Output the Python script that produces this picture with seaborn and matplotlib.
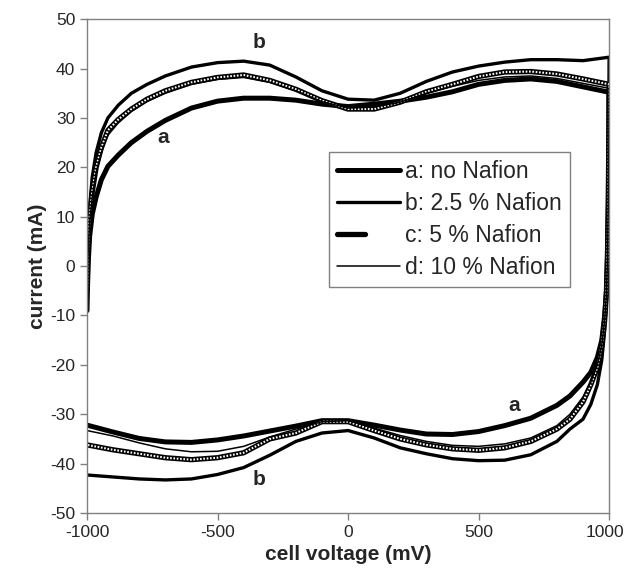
import matplotlib
matplotlib.use("Agg")
import matplotlib.pyplot as plt
import pandas as pd
import seaborn as sns
from matplotlib.lines import Line2D
from matplotlib.legend_handler import HandlerTuple
from matplotlib.transforms import ScaledTranslation

# voltage grids (mV): forward scan -1000 -> 1000, reverse scan 1000 -> -1000
v_fwd = [-1000, -998, -995, -990, -980, -965, -945, -920, -880, -830, -770, -700,
         -600, -500, -400, -300, -200, -100, 0, 100, 200, 300, 400, 500, 600,
         700, 800, 900, 1000]
v_rev = [1000, 999, 997, 994, 990, 983, 972, 955, 930, 900, 850, 800, 700, 600,
         500, 400, 300, 200, 100, 0, -100, -200, -300, -400, -500, -600, -700,
         -800, -900, -1000]

# current (mA)
a_fwd = [-9, -4, 1, 6, 10.5, 14, 17.5, 20.2, 22.5, 25, 27.3, 29.5, 32, 33.4, 34,
         34, 33.6, 32.8, 32.3, 32.8, 33.4, 34.2, 35.3, 36.8, 37.6, 37.9, 37.4,
         36.3, 35.2]
a_rev = [35.2, 25, 12, 2, -5, -10, -15, -18.5, -21.5, -23.5, -26.3, -28.2, -30.8,
         -32.3, -33.5, -34.1, -34, -33.2, -32.2, -31.3, -31.3, -32.4, -33.4, -34.4,
         -35.2, -35.7, -35.6, -34.9, -33.6, -32.2]

b_fwd = [-7, 0, 6, 12, 18, 23, 27, 30, 32.6, 35, 36.8, 38.5, 40.3, 41.2, 41.5,
         40.7, 38.3, 35.5, 33.8, 33.6, 35, 37.4, 39.3, 40.5, 41.3, 41.8, 41.8,
         41.6, 42.3]
b_rev = [42.3, 30, 15, 3, -6, -13, -19, -24, -28, -31, -33, -35.5, -38.2, -39.3,
         -39.4, -39, -38, -36.8, -34.8, -33.3, -33.8, -35.5, -38.3, -40.8, -42.2,
         -43.1, -43.3, -43.1, -42.7, -42.3]

c_fwd = [-5, 0, 5, 10, 15, 20, 24, 27.5, 29.7, 31.8, 33.8, 35.5, 37.2, 38.2, 38.7,
         37.6, 35.8, 33.5, 31.8, 31.8, 33.2, 35.3, 36.8, 38.4, 39.3, 39.4, 38.9,
         37.9, 36.8]
c_rev = [36.8, 26, 14, 3, -5, -11, -16, -20.5, -24, -27.5, -31, -33, -35.5, -36.8,
         -37.3, -37, -36.2, -35, -33.3, -31.5, -31.5, -33.8, -35, -37.8, -38.8,
         -39.2, -38.8, -38, -37.2, -36.2]

d_fwd = [-6, -1, 4, 9, 14, 19, 23, 26.5, 29, 31.3, 33.3, 35, 36.8, 37.8, 38.2,
         37.2, 35.5, 33.3, 32, 32.2, 33.2, 35, 36.4, 37.6, 38.3, 38.5, 38, 37, 36]
d_rev = [36, 25, 13, 2, -5.5, -11, -16, -20, -23.5, -26.5, -30, -32.3, -34.8, -36,
         -36.5, -36.3, -35.5, -34.3, -32.8, -31.3, -31.5, -33, -34.6, -36.5, -37.5,
         -37.6, -37, -35.8, -34.4, -33.3]

labels = ["a: no Nafion", "b: 2.5 % Nafion", "c: 5 % Nafion", "d: 10 % Nafion"]

curves = {"a": (a_fwd, a_rev), "b": (b_fwd, b_rev), "c": (c_fwd, c_rev), "d": (d_fwd, d_rev)}
rows = []
for name, (fwd, rev) in curves.items():
    for v, i in zip(v_fwd + v_rev, fwd + rev):
        rows.append({"curve": name, "voltage": v, "current": i})
df = pd.DataFrame(rows)

sns.set_style("ticks")
plt.rcParams['font.family'] = ['Liberation Sans', 'DejaVu Sans']
plt.rcParams['axes.unicode_minus'] = False

fig = plt.figure(figsize=(6.26, 5.81), dpi=100)
ax = fig.add_axes([0.139, 0.117, 0.834, 0.850])

dots = (0, (0.8, 0.8))
styles = {"a": 3.6, "b": 2.4, "c": 3.8, "d": 1.1}
for name in ["a", "b", "c", "d"]:
    sub = df[df["curve"] == name]
    sns.lineplot(data=sub, x="voltage", y="current", sort=False, estimator=None,
                 color="black", lw=styles[name], ax=ax, legend=False)
    if name == "c":
        sns.lineplot(data=sub, x="voltage", y="current", sort=False, estimator=None,
                     color="white", lw=1.5, ax=ax, legend=False, linestyle=dots)

# curve letters
txt = dict(fontsize=15, fontweight="bold", ha="center", va="center")
ax.text(-708, 26, "a", **txt)
ax.text(-342, 45.3, "b", **txt)
ax.text(638, -28.2, "a", **txt)
ax.text(-342, -43.2, "b", **txt)

ax.set_xlim(-1000, 1000)
ax.set_ylim(-50, 50)
ax.set_xticks(range(-1000, 1001, 500))
ax.set_yticks(range(-50, 51, 10))
ax.set_xlabel("cell voltage (mV)", fontsize=15, fontweight="bold", labelpad=4)
ax.set_ylabel("current (mA)", fontsize=15, fontweight="bold", labelpad=2)
ax.tick_params(labelsize=12.5, direction="out", length=5, width=1, color="#808080")
for s in ax.spines.values():
    s.set_visible(True)
    s.set_color("#808080")
    s.set_linewidth(1)

# nudge the last x tick label so it stays inside the figure
last = ax.get_xticklabels()[-1]
last.set_transform(last.get_transform() + ScaledTranslation(-3 / 72, 0, fig.dpi_scale_trans))

h_a = Line2D([], [], color="black", lw=3.6)
h_b = Line2D([], [], color="black", lw=2.4)
h_c = (Line2D([], [], color="black", lw=3.8),
       Line2D([], [], color="white", lw=1.5, linestyle=dots))
h_d = Line2D([], [], color="black", lw=1.1)
leg = ax.legend([h_a, h_b, h_c, h_d], labels, loc="upper left",
                bbox_to_anchor=(0.464, 0.732), borderaxespad=0, fontsize=16.5,
                handlelength=2.75, handletextpad=0.2, labelspacing=0.4,
                frameon=True, fancybox=False, framealpha=1, borderpad=0.35,
                handler_map={tuple: HandlerTuple(ndivide=None)})
leg.get_frame().set_edgecolor("#808080")
leg.get_frame().set_linewidth(1)

fig.savefig("out.png", dpi=100)
